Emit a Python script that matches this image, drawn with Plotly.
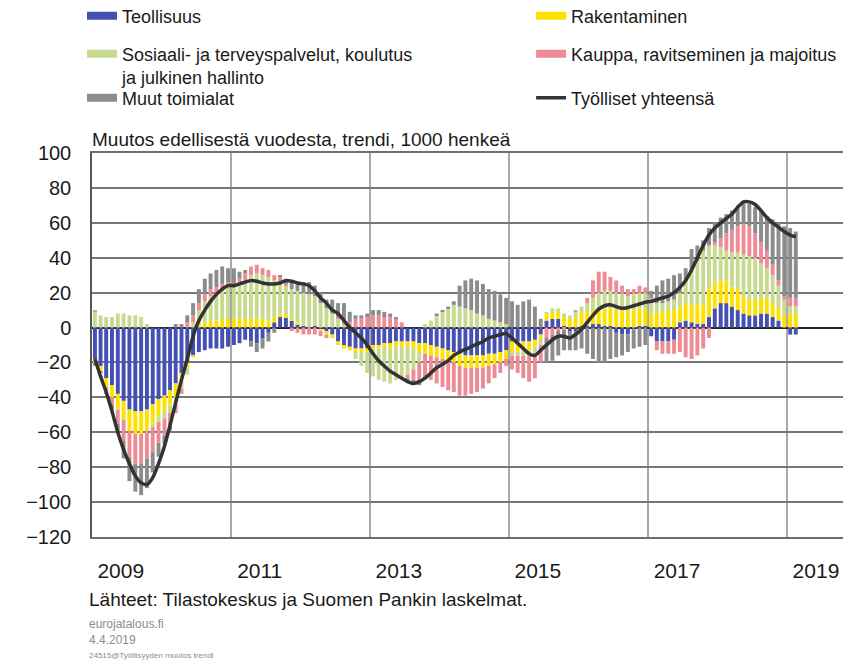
import pandas as pd
import plotly.graph_objects as go

# ---------------- data (1000 persons, change from previous year, trend) ----------------
months = pd.date_range("2009-01-01", periods=122, freq="MS")

teollisuus = [
    -18, -22, -29, -33, -38, -42, -47, -48, -48, -47, -44, -41,   # 2009
    -39, -36, -32, -26, -20, -16, -14, -13, -12, -12, -12, -11,   # 2010
    -10, -9, -7, -8, -9, -6, -3, 3, 6, 6, 4, 2,                   # 2011
    1, 0, 1, -1, -2, -4, -8, -10, -11, -12, -12, -12,             # 2012
    -10, -10, -9, -9, -8, -8, -8, -8, -9, -9, -10, -11,           # 2013
    -12, -13, -14, -15, -16, -16, -16, -16, -15, -15, -14, -13,   # 2014
    -8, -8, -8, -8, -7, -4, 4, 5, 5, 1, -2, -2,                   # 2015
    1, 1, 2, 2, 1, 1, -3, -4, -4, -1, 1, 1,                       # 2016
    -5, -8, -8, -8, -7, 3, 4, 3, 2, 2, 6, 11,                     # 2017
    14, 14, 12, 10, 8, 7, 7, 8, 8, 6, 4, 0,                       # 2018
    -4, -4,                                                       # 2019
]
rakentaminen = [
    -2, -3, -5, -7, -9, -11, -12, -13, -13, -12, -11, -10,
    -9, -8, -7, -5, -3, -1, 2, 3, 4, 4, 5, 5,
    5, 5, 5, 5, 5, 5, 4, 3, 2, 1, 1, 1,
    0, 0, 0, -1, -2, -2, -2, -2, -2, -2, -2, -2,
    -2, -2, -2, -3, -3, -3, -3, -4, -5, -6, -6, -6,
    -6, -6, -6, -7, -7, -7, -7, -7, -7, -6, -6, -5,
    -6, -6, -5, -5, -4, -2, 4, 4, 4, 5, 5, 6,
    8, 8, 8, 9, 10, 10, 10, 10, 10, 10, 10, 10,
    8, 9, 9, 10, 10, 9, 10, 10, 11, 12, 16, 15,
    13, 13, 11, 12, 10, 9, 9, 9, 9, 8, 7, 7,
    8, 8,
]
sosiaali = [
    9, 7, 6, 6, 8, 8, 7, 7, 6, 2, -2, -3,
    -4, -5, -5, -4, -4, 3, 8, 12, 14, 15, 17, 18,
    18, 20, 22, 25, 26, 25, 25, 21, 18, 17, 17, 18,
    19, 19, 17, 14, 11, 8, 5, 2, 0, -4, -8, -12,
    -16, -18, -20, -20, -19, -18, -16, -12, -6, 2, 4, 7,
    9, 11, 13, 12, 11, 10, 8, 7, 5, 4, 3, 2,
    -2, -2, -3, -3, -4, -4, 1, 2, 2, 2, 2, 3,
    3, 5, 7, 9, 10, 10, 10, 9, 8, 9, 9, 9,
    7, 5, 5, 5, 6, 8, 13, 19, 25, 30, 25, 21,
    19, 17, 20, 21, 24, 25, 24, 20, 17, 16, 13, 9,
    4, 4,
]
kauppa = [
    1, 0, -2, -4, -8, -12, -15, -17, -17, -16, -14, -12,
    -10, -8, -5, -3, 3, 4, 4, 4, 4, 4, 3, 3,
    2, 3, 4, 5, 5, 4, 4, 3, 3, 1, -2, -3,
    -4, -4, -4, -3, -2, 0, 1, 2, 3, 5, 6, 6,
    7, 7, 6, 6, 5, 3, -2, -6, -10, -12, -14, -15,
    -16, -17, -17, -17, -16, -15, -14, -12, -10, -8, -6, -4,
    -8, -10, -13, -15, -14, -10, -6, -4, -2, -1, 0, 1,
    0, 3, 10, 12, 11, 8, 7, 5, 4, 3, 4, 3,
    2, -5, -7, -7, -8, -14, -17, -18, -16, -12, -6, 2,
    5, 10, 13, 15, 17, 17, 14, 12, 10, 6, 3, 2,
    5, 5,
]
muut = [
    -2, -1, -2, -3, -6, -10, -14, -16, -18, -17, -12, -8,
    -5, -2, 2, 2, 4, 7, 8, 9, 9, 10, 10, 8,
    9, 4, 2, -3, -5, -6, -5, -3, 1, 2, 4, 5,
    6, 7, 6, 6, 5, 8, 8, 10, 6, 2, 1, 2,
    3, 3, 3, 2, 1, 0, -2, -3, -3, -2, 0, 1,
    1, 1, 2, 12, 16, 18, 19, 18, 17, 17, 16, 15,
    15, 13, 15, 16, 12, 5, -14, -15, -14, -12, -11, -11,
    -12, -15, -18, -20, -20, -18, -14, -12, -10, -11, -11, -10,
    4, 10, 13, 13, 14, 11, 7, 13, 9, 6, 10, 11,
    12, 11, 11, 11, 12, 13, 15, 18, 20, 26, 33, 40,
    40, 38,
]
tyolliset = [
    -18, -28, -37, -48, -60, -70, -78, -85, -89, -90, -86, -78,
    -68, -56, -43, -30, -18, -5, 4, 10, 15, 19, 22, 24,
    24, 25, 26, 27, 26.5, 25.5, 25, 25, 25.5, 27, 26.5, 25.5,
    25, 24, 21, 17, 14, 10, 8, 4, 0, -3, -6, -10,
    -15, -19, -22, -25, -27, -29, -31, -32, -31, -29, -26, -23,
    -21, -19, -16, -14, -12.5, -11, -9.5, -8, -6, -5, -4, -3.5,
    -6, -9, -12, -15, -16, -13, -10, -7, -5, -5, -6, -4,
    -1, 3, 7, 10.5, 12.5, 13, 12, 11, 11.5, 12.5, 13.5, 14.5,
    15, 16, 17, 18, 20, 23, 27, 33, 40, 47, 53, 57,
    60, 62.5, 65, 69, 72, 72, 70.5, 67, 63, 60, 57.5, 55,
    53, 52,
]

year_labels = ["2009", "2011", "2013", "2015", "2017", "2019"]
label_dates = ["2009-06-01", "2011-06-01", "2013-06-01", "2015-06-01", "2017-06-01", "2019-06-01"]

series = [
    ("Teollisuus", teollisuus, "#4450B2"),
    ("Rakentaminen", rakentaminen, "#FFE100"),
    ("Sosiaali- ja terveyspalvelut, koulutus<br>ja julkinen hallinto", sosiaali, "#C7DA90"),
    ("Kauppa, ravitseminen ja majoitus", kauppa, "#EE8C96"),
    ("Muut toimialat", muut, "#8C8C8C"),
]
legend_ids = ["legend", "legend2", "legend3", "legend4", "legend5", "legend6"]

FONT = "Liberation Sans, Arial, sans-serif"

fig = go.Figure()
for name, vals, color in series:
    fig.add_trace(go.Bar(
        x=months, y=vals, name=name, marker=dict(color=color, line=dict(width=0)),
        xperiod="M1", xperiodalignment="middle", showlegend=False, legendgroup=name,
    ))

# legend entries (wide swatches, like the original)
for (name, vals, color), leg in zip(series, legend_ids):
    fig.add_trace(go.Scatter(
        x=[None], y=[None], mode="lines", name=name, legend=leg, legendgroup=name,
        line=dict(color=color, width=8), hoverinfo="skip",
    ))

fig.add_trace(go.Scatter(
    x=months, y=tyolliset, name="Työlliset yhteensä", mode="lines", legend="legend6",
    xperiod="M1", xperiodalignment="middle",
    line=dict(color="#333333", width=3.5, shape="spline", smoothing=0.6),
))

legend_common = dict(
    orientation="v", xanchor="left", yanchor="top",
    font=dict(size=18, family=FONT, color="#1a1a1a"), itemwidth=30, bgcolor="rgba(0,0,0,0)",
    valign="top",
)
left_x, right_x = -0.0133, 0.5847
row_y = [1.405, 1.306, 1.1914]

fig.update_layout(
    width=843, height=655,
    margin=dict(l=84, r=8, t=145, b=126, autoexpand=False),
    paper_bgcolor="white", plot_bgcolor="white",
    barmode="relative", bargap=0.3,
    font=dict(family=FONT, color="#1a1a1a"),
    legend=dict(x=left_x, y=row_y[0], **legend_common),
    legend2=dict(x=right_x, y=row_y[0], **legend_common),
    legend3=dict(x=left_x, y=row_y[1], **legend_common),
    legend4=dict(x=right_x, y=row_y[1], **legend_common),
    legend5=dict(x=left_x, y=row_y[2], **legend_common),
    legend6=dict(x=right_x, y=row_y[2], **legend_common),
    xaxis=dict(
        type="date", range=["2009-01-01", "2019-10-21"],
        tickvals=label_dates, ticktext=year_labels, ticks="", showgrid=False,
        tickfont=dict(size=21, family=FONT, color="#1a1a1a"), ticklabelstandoff=14,
        minor=dict(dtick="M24", tick0="2009-01-01", showgrid=True, gridcolor="#a8a8a8", gridwidth=1.5, ticks=""),
        showline=True, mirror=True, linecolor="#6e6e6e", linewidth=1.5,
    ),
    yaxis=dict(
        range=[-120, 100], dtick=20, tick0=0, ticks="",
        tickfont=dict(size=20, family=FONT, color="#1a1a1a"), ticklabelstandoff=15,
        showgrid=True, gridcolor="#777777", gridwidth=1.6,
        zeroline=True, zerolinecolor="#222222", zerolinewidth=1.5,
        showline=True, linecolor="#555555", linewidth=1.5,
    ),
    annotations=[
        dict(text="Muutos edellisestä vuodesta, trendi, 1000 henkeä", xref="paper", yref="paper",
             x=-0.003, y=1.034, xanchor="left", yanchor="middle", showarrow=False,
             font=dict(size=19, family=FONT, color="#1a1a1a")),
        dict(text="Lähteet: Tilastokeskus ja Suomen Pankin laskelmat.", xref="paper", yref="paper",
             x=-0.006, y=-0.164, xanchor="left", yanchor="middle", showarrow=False,
             font=dict(size=19, family=FONT, color="#1a1a1a")),
        dict(text="eurojatalous.fi", xref="paper", yref="paper",
             x=-0.006, y=-0.227, xanchor="left", yanchor="middle", showarrow=False,
             font=dict(size=12, family=FONT, color="#8c8c8c")),
        dict(text="4.4.2019", xref="paper", yref="paper",
             x=-0.006, y=-0.268, xanchor="left", yanchor="middle", showarrow=False,
             font=dict(size=12, family=FONT, color="#8c8c8c")),
        dict(text="24515@Työllisyyden muutos trendi", xref="paper", yref="paper",
             x=-0.006, y=-0.308, xanchor="left", yanchor="middle", showarrow=False,
             font=dict(size=8, family=FONT, color="#8c8c8c")),
    ],
)

fig.write_html("out.html")
